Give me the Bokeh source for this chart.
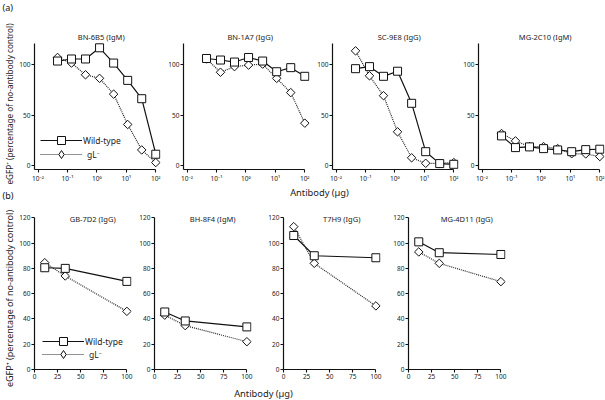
import numpy as np
from bokeh.plotting import figure
from bokeh.layouts import column, row
from bokeh.models import (Range1d, FixedTicker, CustomJSTickFormatter, Label,
                          Legend, LegendItem)
from bokeh.embed import file_html
from bokeh.resources import INLINE

FONT = "Noto Sans"

# ---------------- data ----------------
dose_log = [0.046, 0.137, 0.41, 1.23, 3.7, 11.1, 33.3, 100]
dose_lin = [11.1, 33.3, 100]

top_titles = ["BN-6B5 (IgM)", "BN-1A7 (IgG)", "SC-9E8 (IgG)", "MG-2C10 (IgM)"]
bn6b5_wt = [103, 105, 105, 116, 101, 84, 66, 11.5]
bn6b5_gl = [106.5, 101, 89.5, 86, 70.5, 40.7, 15.7, 3.3]
bn1a7_wt = [105.5, 104, 102, 106.5, 103, 92.5, 96.5, 88]
bn1a7_gl = [105, 92, 97.5, 99, 100, 86, 72, 42]
sc9e8_wt = [95.5, 97.5, 88, 93, 61.5, 14, 2.3, 1.6]
sc9e8_gl = [113, 88.5, 69, 33.5, 8, 2.6, 2.6, 3.3]
mg2c10_wt = [29.5, 18, 18.7, 17, 15.7, 14, 16, 16.4]
mg2c10_gl = [31.8, 24.6, 19, 19, 17, 12, 11.8, 9.2]

bottom_titles = ["GB-7D2 (IgG)", "BH-8F4 (IgM)", "T7H9 (IgG)", "MG-4D11 (IgG)"]
gb7d2_wt = [80.5, 80, 69.7]
gb7d2_gl = [84.5, 74, 46]
bh8f4_wt = [45.5, 38.4, 33.7]
bh8f4_gl = [43, 34.7, 22]
t7h9_wt = [106, 90, 88.4]
t7h9_gl = [113, 84, 50.3]
mg4d11_wt = [101, 92.4, 91]
mg4d11_gl = [93, 84, 69.5]

log_ticks = [0.01, 0.1, 1, 10, 100]
top_yticks = [0, 50, 100]
bottom_xticks = [0, 25, 50, 75, 100]
bottom_yticks = [0, 20, 40, 60, 80, 100, 120]

y_label = "eGFP\u207a (percentage of no-antibody control)"
x_label = "Antibody (\u00b5g)"
series_names = ["Wild-type", "gL\u207b"]

# ---------------- helpers ----------------
XL0, XL1 = 10 ** -2.12, 10 ** 2.16
INK = "#111111"
TXT = "#222222"


def style_axes(p):
    p.grid.visible = False
    p.outline_line_color = None
    p.background_fill_color = None
    p.border_fill_color = None
    for ax in p.axis:
        ax.axis_line_color = INK
        ax.axis_line_width = 1.2
        ax.major_tick_line_color = INK
        ax.major_tick_line_width = 1.1
        ax.major_tick_out = 3
        ax.major_tick_in = 0
        ax.minor_tick_line_color = None
        ax.major_label_text_font = FONT
        ax.major_label_text_font_size = "6.5px"
        ax.major_label_text_color = TXT
        ax.major_label_standoff = 1


def draw_series(p, x, wt, gl):
    lw = p.line(x, wt, line_color=INK, line_width=1.2)
    lg = p.line(x, gl, line_color="#262626", line_width=1.2, line_dash="1 1")
    p.scatter(x, gl, marker="square", angle=np.pi / 4, size=6,
              fill_color="white", line_color=INK, line_width=1)
    sw = p.scatter(x, wt, marker="square", size=8,
                   fill_color="white", line_color=INK, line_width=1)
    return (lw, sw), lg


def add_legend(p, wt_r, gl_line, vx, vy_wt, vy_gl):
    # marker sample used only by the legend (a single undefined point, not drawn)
    gl_key = p.scatter(x=[np.nan], y=[np.nan], marker="diamond", size=9,
                       fill_color="white", line_color=INK, line_width=1)
    for rs, name, vy, so in ((list(wt_r), series_names[0], vy_wt, 1),
                             ([gl_line, gl_key], series_names[1], vy_gl, 5)):
        leg = Legend(items=[LegendItem(label=name, renderers=rs)],
                     location=(vx, vy), orientation="vertical",
                     border_line_color=None, background_fill_alpha=0,
                     padding=0, margin=0, spacing=0,
                     glyph_width=42, glyph_height=20, label_standoff=so,
                     label_text_font=FONT, label_text_font_size="8.5px",
                     label_text_color=TXT)
        p.add_layout(leg, "center")


def top_panel(i, wt, gl, left, right):
    p = figure(x_axis_type="log", x_range=Range1d(XL0, XL1),
               y_range=Range1d(-3.5, 132), frame_width=126, frame_height=138,
               min_border_left=left, min_border_right=right,
               min_border_top=31, min_border_bottom=16,
               output_backend="svg", toolbar_location=None)
    style_axes(p)
    p.xaxis.ticker = FixedTicker(ticks=log_ticks)
    p.xaxis.formatter = CustomJSTickFormatter(code="""
        const e = Math.round(Math.log10(tick));
        const m = {"-": "\u207b", "0": "\u2070", "1": "\u00b9", "2": "\u00b2", "3": "\u00b3"};
        return "10" + String(e).split("").map(c => m[c]).join("");
    """)
    p.xaxis.bounds = (XL0, 100)
    p.yaxis.ticker = FixedTicker(ticks=top_yticks)
    p.yaxis.bounds = (-3.5, 120)
    rw, rg = draw_series(p, dose_log, wt, gl)
    p.add_layout(Label(x=1.4, y=127, text=top_titles[i],
                       text_align="center", text_baseline="middle",
                       text_font=FONT, text_font_size="7.5px",
                       text_color=TXT))
    return p, rw, rg


def bottom_panel(i, wt, gl, left, right):
    p = figure(x_range=Range1d(0, 105), y_range=Range1d(0, 125),
               frame_width=97, frame_height=158,
               min_border_left=left, min_border_right=right,
               min_border_top=10, min_border_bottom=16,
               output_backend="svg", toolbar_location=None)
    style_axes(p)
    p.xaxis.ticker = FixedTicker(ticks=bottom_xticks)
    p.xaxis.bounds = (0, 100)
    p.yaxis.ticker = FixedTicker(ticks=bottom_yticks)
    p.yaxis.bounds = (0, 120)
    rw, rg = draw_series(p, dose_lin, wt, gl)
    p.add_layout(Label(x=63, y=119.2, text=bottom_titles[i],
                       text_align="center", text_baseline="middle",
                       text_font=FONT, text_font_size="7.5px",
                       text_color=TXT))
    return p, rw, rg


def text_strip(w, h):
    f = figure(width=w, height=h, x_range=Range1d(0, w), y_range=Range1d(0, h),
               min_border=0, x_axis_location=None, y_axis_location=None,
               output_backend="svg", toolbar_location=None)
    f.grid.visible = False
    f.outline_line_color = None
    f.background_fill_color = None
    f.border_fill_color = None
    return f


def add_text(f, x, y, text, size, align="center", angle=0.0, color=TXT):
    f.add_layout(Label(x=x, y=y, text=text, angle=angle,
                       text_align=align, text_baseline="middle",
                       text_font=FONT, text_font_size=size, text_color=color))


# ---------------- left strip (panel letters + y labels) ----------------
strip = text_strip(16, 400)
add_text(strip, 2, 393, "(a)", "9px", align="left", color=INK)
add_text(strip, 8.5, 296.5, y_label, "8.2px", angle=np.pi / 2)
add_text(strip, 2, 205, "(b)", "9px", align="left", color=INK)
add_text(strip, 8.5, 102, y_label, "9px", angle=np.pi / 2)

# ---------------- top row ----------------
t1, t1w, t1g = top_panel(0, bn6b5_wt, bn6b5_gl, 16, 5)
t2, _, _ = top_panel(1, bn1a7_wt, bn1a7_gl, 16, 5)
t3, _, _ = top_panel(2, sc9e8_wt, sc9e8_gl, 16, 2)
t4, _, _ = top_panel(3, mg2c10_wt, mg2c10_gl, 16, 9)
add_legend(t1, t1w, t1g, 6, 19, 5)

# ---------------- bottom row ----------------
b1, b1w, b1g = bottom_panel(0, gb7d2_wt, gb7d2_gl, 18, 5)
b2, _, _ = bottom_panel(1, bh8f4_wt, bh8f4_gl, 16, 14)
b3, _, _ = bottom_panel(2, t7h9_wt, t7h9_gl, 16, 10)
b4, _, _ = bottom_panel(3, mg4d11_wt, mg4d11_gl, 16, 2)
add_legend(b1, b1w, b1g, 8, 18, 5)

# ---------------- x labels ----------------
xl1 = text_strip(589, 16)
add_text(xl1, 303, 9, x_label, "9.3px")
xl2 = text_strip(589, 15)
add_text(xl2, 247, 7, x_label, "9.3px")

layout = row(strip, column(row(t1, t2, t3, t4), xl1, row(b1, b2, b3, b4), xl2))
open("out.html", "w").write(file_html(layout, INLINE))
